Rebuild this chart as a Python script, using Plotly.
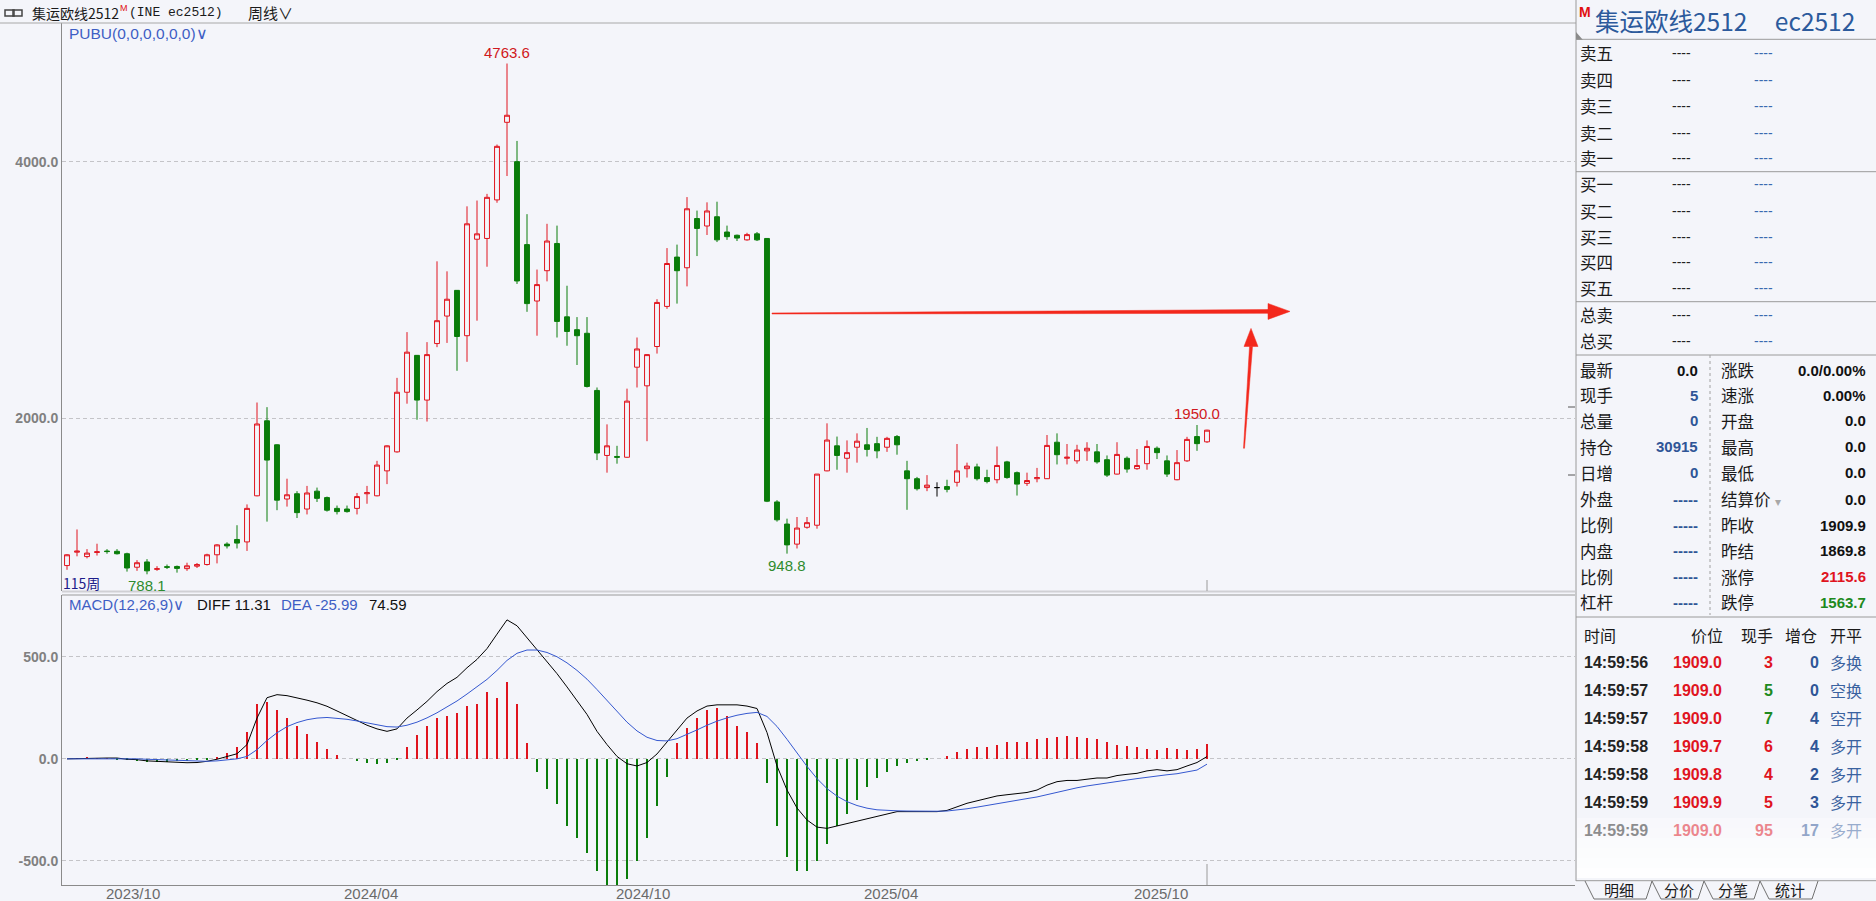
import plotly.graph_objects as go

# ---------------- data ----------------
opens = [856, 960, 926, 958, 969, 967, 948, 843, 884, 827,
         847, 849, 832, 851, 864, 940, 1023, 1059, 1040, 1399,
         1983, 1796, 1374, 1415, 1296, 1435, 1385, 1301, 1296, 1301,
         1415, 1399, 1593, 1741, 2205, 2492, 2144, 2584, 2798, 2998,
         2645, 3396, 3402, 3702, 4306, 4000, 3354, 2915, 3151, 3363,
         2792, 2692, 2664, 2219, 1713, 1705, 1699, 2400, 2255, 2561,
         2873, 3257, 3174, 3557, 3499, 3571, 3452, 3427, 3391, 3438,
         3402, 1351, 1179, 1023, 1154, 1170, 1593, 1788, 1691, 1777,
         1796, 1805, 1777, 1860, 1593, 1532, 1463, 1463, 1471, 1504,
         1610, 1624, 1541, 1524, 1663, 1579, 1496, 1532, 1532, 1816,
         1691, 1671, 1749, 1741, 1680, 1568, 1691, 1610, 1649, 1769,
         1671, 1524, 1671, 1860, 1819]
highs = [945, 1137, 984, 1026, 984, 984, 956, 898, 906, 851,
         864, 856, 878, 876, 948, 1023, 1037, 1170, 1332, 2125,
         2089, 1800, 1532, 1435, 1476, 1463, 1393, 1323, 1323, 1421,
         1476, 1671, 1792, 2317, 2673, 2495, 2595, 3224, 3146, 3000,
         3652, 3697, 3749, 4133, 4763.6, 4161, 3591, 3160, 3516, 3502,
         3034, 2790, 2790, 2242, 1955, 1788, 2233, 2631, 2500, 2929,
         3327, 3354, 3724, 3619, 3683, 3688, 3502, 3432, 3446, 3452,
         3405, 1365, 1221, 1234, 1234, 1568, 1963, 1860, 1830, 1885,
         1927, 1858, 1858, 1872, 1671, 1546, 1560, 1504, 1524, 1802,
         1657, 1649, 1602, 1783, 1671, 1588, 1579, 1616, 1872, 1885,
         1802, 1796, 1816, 1802, 1713, 1816, 1705, 1763, 1830, 1783,
         1713, 1755, 1858, 1950, 1913]
lows = [823, 928, 912, 934, 948, 942, 809, 815, 788.1, 815,
        829, 801, 815, 837, 856, 873, 989, 989, 970, 1395,
        1198, 1287, 1315, 1226, 1254, 1351, 1276, 1254, 1268, 1254,
        1337, 1395, 1490, 1735, 2116, 1991, 1977, 2556, 2589, 2372,
        2442, 2762, 3182, 3680, 3888, 3048, 2831, 2645, 3068, 2631,
        2567, 2417, 2242, 1677, 1579, 1649, 1695, 2242, 1824, 2506,
        2854, 2895, 3029, 3265, 3429, 3374, 3391, 3382, 3385, 3382,
        1350, 1198, 948.8, 989, 1143, 1143, 1590, 1602, 1579, 1657,
        1705, 1691, 1741, 1719, 1290, 1440, 1435, 1393, 1426, 1471,
        1541, 1518, 1496, 1496, 1532, 1401, 1476, 1504, 1530, 1643,
        1643, 1649, 1671, 1649, 1546, 1565, 1579, 1602, 1602, 1685,
        1546, 1520, 1663, 1749, 1811]
closes = [940, 968, 953, 963, 965, 948, 837, 878, 815, 831,
          843, 834, 854, 864, 940, 1017, 1009, 1031, 1301, 1958,
          1677, 1365, 1407, 1268, 1421, 1379, 1287, 1276, 1276, 1393,
          1423, 1638, 1788, 2205, 2517, 2144, 2498, 2762, 2929, 2639,
          3516, 3438, 3722, 4119, 4361, 3071, 2895, 3043, 3382, 2756,
          2678, 2645, 2250, 1732, 1788, 1699, 2136, 2542, 2498, 2904,
          3207, 3151, 3633, 3480, 3616, 3391, 3416, 3405, 3432, 3391,
          1357, 1212, 1017, 1148, 1190, 1568, 1833, 1713, 1735, 1824,
          1760, 1749, 1846, 1796, 1532, 1454, 1482, 1463, 1449, 1593,
          1630, 1532, 1510, 1635, 1541, 1490, 1518, 1541, 1791, 1719,
          1699, 1755, 1769, 1663, 1560, 1721, 1607, 1635, 1783, 1735,
          1568, 1657, 1838, 1805, 1909.9]

diff_vals = [0, 0, 2, 3, 4, 4, -2, -4, -10, -13,
             -16, -18, -19, -18, -12, -2, 10, 25, 70, 200,
             300, 315, 310, 300, 288, 275, 258, 235, 212, 188,
             165, 147, 135, 147, 200, 240, 282, 330, 370, 400,
             447, 488, 541, 612, 682, 653, 594, 535, 476, 418,
             353, 288, 218, 135, 70, 12, -24, -35, -18, 24,
             82, 141, 200, 235, 259, 265, 265, 265, 259, 247,
             129, -35, -153, -241, -300, -335, -341, -329, -318, -306,
             -294, -282, -270, -259, -259, -259, -259, -259, -253, -235,
             -218, -206, -194, -182, -176, -170, -165, -153, -129, -112,
             -106, -106, -100, -94, -94, -82, -76, -71, -59, -53,
             -59, -53, -35, -18, 11.31]
dea_vals = [0, 0, 0, 1, 1, 2, 1, 0, -2, -4,
            -7, -9, -11, -12, -12, -10, -6, 0, 12, 45,
            90, 128, 158, 178, 192, 200, 203, 200, 194, 186,
            176, 166, 158, 156, 165, 180, 201, 226, 255, 284,
            318, 352, 390, 434, 483, 518, 534, 534, 522, 501,
            471, 434, 391, 340, 286, 231, 180, 137, 106, 90,
            88, 99, 119, 142, 165, 185, 201, 214, 223, 228,
            208, 159, 96, 29, -37, -97, -146, -183, -210, -229,
            -242, -250, -254, -255, -256, -257, -257, -257, -256, -252,
            -245, -237, -228, -219, -210, -202, -195, -187, -175, -163,
            -151, -142, -133, -125, -119, -111, -104, -97, -90, -82,
            -78, -73, -65, -55, -25.99]
macd_hist = [0, 3, 5, 4, 3, -3, -8, -12, -15, -15,
             -14, -12, -10, -8, -3, 8, 30, 60, 130, 270,
             280, 240, 200, 160, 120, 85, 50, 20, 0, -12,
             -20, -25, -20, -8, 60, 115, 160, 200, 210, 225,
             260, 270, 330, 300, 375, 270, 80, -65, -150, -220,
             -330, -390, -460, -550, -620, -650, -590, -500, -390, -230,
             -90, 80, 150, 200, 240, 250, 210, 160, 130, 80,
             -120, -330, -480, -550, -550, -500, -420, -330, -270, -200,
             -140, -95, -65, -35, -18, -10, -5, 0, 12, 35,
             48, 58, 60, 70, 82, 82, 82, 95, 100, 105,
             110, 105, 100, 95, 82, 70, 65, 60, 48, 42,
             55, 48, 42, 48, 74.59]

tick_positions = [7.6, 31.4, 58.6, 83.4, 110.4]
tick_labels = ["2023/10", "2024/04", "2024/10", "2025/04", "2025/10"]

ask_labels = ["卖五", "卖四", "卖三", "卖二", "卖一"]
bid_labels = ["买一", "买二", "买三", "买四", "买五"]
tot_labels = ["总卖", "总买"]
quote_left = [("最新", "0.0", "#111111"), ("现手", "5", "#2F5597"), ("总量", "0", "#2F5597"),
              ("持仓", "30915", "#2F5597"), ("日增", "0", "#2F5597"), ("外盘", "-----", "#2F5597"),
              ("比例", "-----", "#2F5597"), ("内盘", "-----", "#2F5597"), ("比例", "-----", "#2F5597"),
              ("杠杆", "-----", "#2F5597")]
quote_right = [("涨跌", "0.0/0.00%", "#111111"), ("速涨", "0.00%", "#111111"), ("开盘", "0.0", "#111111"),
               ("最高", "0.0", "#111111"), ("最低", "0.0", "#111111"), ("结算价", "0.0", "#111111"),
               ("昨收", "1909.9", "#111111"), ("昨结", "1869.8", "#111111"), ("涨停", "2115.6", "#E0141E"),
               ("跌停", "1563.7", "#1E8A1E")]
trade_times = ["14:59:56", "14:59:57", "14:59:57", "14:59:58", "14:59:58", "14:59:59", "14:59:59"]
trade_prices = ["1909.0", "1909.0", "1909.0", "1909.7", "1909.8", "1909.9", "1909.0"]
trade_vols = ["3", "5", "7", "6", "4", "5", "95"]
trade_vol_colors = ["#E0141E", "#1E8A1E", "#1E8A1E", "#E0141E", "#E0141E", "#E0141E", "#E0141E"]
trade_oi = ["0", "0", "4", "4", "2", "3", "17"]
trade_types = ["多换", "空换", "空开", "多开", "多开", "多开", "多开"]
tabs = ["明细", "分价", "分笔", "统计"]

# ---------------- style ----------------
BG = "#F4F5FA"
RED = "#E0141E"
GREEN = "#0A7D0A"
GRID = "#C4C4C8"
AXIS = "#8A8A8A"
CJK = "Noto Sans CJK SC"
SANS = "Liberation Sans"

W, H = 1876, 901
L, R, T, B = 62, 1575, 23, 885


def px(x):
    return (x - L) / (R - L)


def py(y):
    return (B - y) / (B - T)


n = len(closes)
idx = list(range(1, n + 1))

fig = go.Figure()

# candles
norm = [i for i in range(n) if opens[i] != closes[i]]
doji = [i for i in range(n) if opens[i] == closes[i]]
fig.add_trace(go.Candlestick(
    x=[idx[i] for i in norm], open=[opens[i] for i in norm], high=[highs[i] for i in norm],
    low=[lows[i] for i in norm], close=[closes[i] for i in norm],
    increasing=dict(line=dict(color=RED, width=1), fillcolor=BG),
    decreasing=dict(line=dict(color=GREEN, width=1), fillcolor=GREEN),
    whiskerwidth=0, xaxis="x", yaxis="y", hoverinfo="skip"))
if doji:
    fig.add_trace(go.Candlestick(
        x=[idx[i] for i in doji], open=[opens[i] for i in doji], high=[highs[i] for i in doji],
        low=[lows[i] for i in doji], close=[closes[i] for i in doji],
        increasing=dict(line=dict(color="#000000", width=1), fillcolor="#000000"),
        decreasing=dict(line=dict(color="#000000", width=1), fillcolor="#000000"),
        whiskerwidth=0, xaxis="x", yaxis="y", hoverinfo="skip"))

# MACD
fig.add_trace(go.Bar(x=idx, y=macd_hist, width=0.12,
                     marker=dict(color=[RED if v >= 0 else GREEN for v in macd_hist], line=dict(width=0)),
                     xaxis="x2", yaxis="y2", hoverinfo="skip"))
fig.add_trace(go.Scatter(x=idx, y=diff_vals, mode="lines", line=dict(color="#000000", width=1),
                         xaxis="x2", yaxis="y2", hoverinfo="skip"))
fig.add_trace(go.Scatter(x=idx, y=dea_vals, mode="lines", line=dict(color="#3558D0", width=1),
                         xaxis="x2", yaxis="y2", hoverinfo="skip"))

xr = [0.5, 1 + (R - 67) / 10.0]
fig.update_layout(
    width=W, height=H, paper_bgcolor=BG, plot_bgcolor=BG, showlegend=False,
    margin=dict(l=L, r=W - R, t=T, b=H - B, autoexpand=False),
    boxmode="overlay", bargap=0, hovermode=False,
    xaxis=dict(domain=[0, 1], range=xr, anchor="y", showticklabels=False, showgrid=False, automargin=False,
               zeroline=False, showline=False, rangeslider=dict(visible=False), fixedrange=True),
    xaxis2=dict(domain=[0, 1], range=xr, anchor="y2", matches="x", showgrid=False, zeroline=False,
                showline=True, linecolor=AXIS, linewidth=1, ticks="", automargin=False,
                showticklabels=False),
    yaxis=dict(domain=[py(591), 1], range=[658, 5079], showgrid=True, gridcolor=GRID, griddash="4px,3px",
               gridwidth=1, zeroline=False, showline=True, linecolor=AXIS, ticks="", automargin=False,
               tickvals=[2000, 4000], ticktext=["2000.0", "4000.0"],
               tickfont=dict(family=SANS, size=14, color="#808080", weight="bold")),
    yaxis2=dict(domain=[0, py(595)], range=[-619, 804], showgrid=True, gridcolor=GRID, automargin=False,
                griddash="4px,3px", gridwidth=1, zeroline=False, showline=True, linecolor=AXIS,
                ticks="", tickvals=[-500, 0, 500], ticktext=["-500.0", "0.0", "500.0"],
                tickfont=dict(family=SANS, size=14, color="#808080", weight="bold")),
)

shapes = []
ann = []


def pline(x0, y0, x1, y1, color="#A0A0A0", width=1, dash=None):
    d = dict(type="line", xref="paper", yref="paper", x0=px(x0), y0=py(y0), x1=px(x1), y1=py(y1),
             line=dict(color=color, width=width))
    if dash:
        d["line"]["dash"] = dash
    shapes.append(d)


def text(x, y, s, size=14, color="#111111", family=CJK, xanchor="left", weight="normal", opacity=1.0):
    ann.append(dict(x=px(x), y=py(y), xref="paper", yref="paper", text=s, showarrow=False,
                    xanchor=xanchor, yanchor="middle", borderpad=0, opacity=opacity,
                    font=dict(size=size, color=color, family=family, weight=weight)))


# x-axis date labels (placed on the shared candle axis)
for pos, lab in zip(tick_positions, tick_labels):
    ann.append(dict(x=pos, y=py(893), xref="x2", yref="paper", text=lab, showarrow=False,
                    xanchor="center", yanchor="middle", borderpad=0,
                    font=dict(size=15, color="#6A6A6A", family=SANS)))

# frame lines
pline(0, 23, R + 1, 23, "#A8A8A8")
pline(L, 591.5, R, 591.5, "#D0D0D4", 2)
pline(L, 595, R, 595, "#9A9A9A", 1)
pline(R + 1, 0, R + 1, 881, "#9A9A9A")
# last-bar markers
shapes.append(dict(type="line", xref="x", yref="paper", x0=idx[-1], x1=idx[-1], y0=py(591), y1=py(580),
                   line=dict(color="#9A9A9A", width=1)))
shapes.append(dict(type="line", xref="x", yref="paper", x0=idx[-1], x1=idx[-1], y0=py(885), y1=py(864),
                   line=dict(color="#9A9A9A", width=1)))
# small marks at right edge
pline(R - 7, 407, R, 407, "#555555")
pline(R - 7, 475, R, 475, "#555555")
# small collapse triangle at the top-left of the side panel
shapes.append(dict(type="path", xref="paper", yref="paper",
                   path=f"M {px(R + 1)},{py(32)} L {px(R + 8)},{py(40)} L {px(R + 1)},{py(40)} Z",
                   fillcolor="#8A8A8A", line=dict(width=0)))

# link icon
for x0 in (5, 13):
    shapes.append(dict(type="rect", xref="paper", yref="paper", x0=px(x0), x1=px(x0 + 9), y0=py(16), y1=py(10),
                       line=dict(color="#444444", width=1.5)))

# header texts
text(31, 12.5, "集运欧线2512", 14, "#1a1a1a")
text(119, 8, "M", 9, "#E01010", SANS)
text(128, 13, "(INE ec2512)", 13, "#1a1a1a", "Liberation Mono")
text(247, 12.5, "周线∨", 15, "#1a1a1a")
text(68, 33.5, "PUBU(0,0,0,0,0,0)∨", 15.5, "#3E5EC4", SANS)
text(62, 583, "115周", 14, "#1C1C8A", CJK)
text(68, 604, "MACD(12,26,9)∨", 15, "#3E5EC4", SANS)
text(196, 604, "DIFF 11.31", 15, "#111111", SANS)
text(280, 604, "DEA -25.99", 15, "#3E5EC4", SANS)
text(368, 604, "74.59", 15, "#111111", SANS)

# extreme labels
imax = highs.index(max(highs))
ann.append(dict(x=idx[imax], y=highs[imax], xref="x", yref="y", text=f"{highs[imax]:.1f}", showarrow=False,
                yanchor="bottom", yshift=1, font=dict(size=15, color="#D01820", family=SANS)))
imin1 = lows.index(min(lows))
ann.append(dict(x=idx[imin1], y=lows[imin1], xref="x", yref="y", text=f"{lows[imin1]:.1f}", showarrow=False,
                yanchor="top", yshift=-1, font=dict(size=15, color="#2E8B2E", family=SANS)))
imin2 = lows.index(min(lows[60:]))
ann.append(dict(x=idx[imin2], y=lows[imin2], xref="x", yref="y", text=f"{lows[imin2]:.1f}", showarrow=False,
                yanchor="top", yshift=-1, font=dict(size=15, color="#2E8B2E", family=SANS)))
imax2 = highs.index(max(highs[100:]))
ann.append(dict(x=idx[imax2], y=highs[imax2], xref="x", yref="y", text=f"{highs[imax2]:.1f}", showarrow=False,
                yanchor="bottom", yshift=1, font=dict(size=15, color="#D01820", family=SANS)))


# red hand-drawn arrows (in data coordinates of the price panel)
def tapered(x0, y0, x1, y1, w0, w1, head_len, head_w, vertical=False):
    ARW = "#F3281C"
    if not vertical:
        hx = x1 - head_len
        path = (f"M {x0},{y0 - w0} L {hx},{y1 - w1} L {hx},{y1 + w1} L {x0},{y0 + w0} Z")
        head = f"M {hx},{y1 - head_w} L {x1},{y1} L {hx},{y1 + head_w} Z"
    else:
        hy = y1 - head_len
        path = (f"M {x0 - w0},{y0} L {x1 - w1},{hy} L {x1 + w1},{hy} L {x0 + w0},{y0} Z")
        head = f"M {x1 - head_w},{hy} L {x1},{y1} L {x1 + head_w},{hy} Z"
    for p in (path, head):
        shapes.append(dict(type="path", xref="x", yref="y", path=p, fillcolor=ARW,
                           line=dict(color=ARW, width=0.5)))


tapered(71.5, 2818, 123.3, 2834, 4, 15, 2.2, 62)
tapered(118.7, 1769, 119.4, 2702, 0.05, 0.15, 141, 0.7, vertical=True)

# ---------------- right panel ----------------
text(1578, 12, "M", 14, "#E01010", SANS, weight="bold")
text(1594, 20.5, "集运欧线2512&nbsp;&nbsp;&nbsp;&nbsp;&nbsp;ec2512", 24.5, "#2C5A9C", CJK)
for y in (39.3, 171.7, 301.7, 355, 617, 880.7):
    pline(R + 1, y, W, y, "#9A9A9A")
pline(1710, 355, 1710, 615, "#A0A0A0", 1, "dot")

rows1 = list(zip(ask_labels, [53, 80, 106.5, 132.5, 158.3])) + \
    list(zip(bid_labels, [183.5, 210.5, 236.5, 262.3, 287.5])) + \
    list(zip(tot_labels, [315, 340.7]))
for lab, y in rows1:
    text(1579, y, lab, 16.5, "#1a1a1a")
    text(1681, y, "----", 14, "#222222", SANS, "center")
    text(1763, y, "----", 14, "#3A6AB0", SANS, "center")

ys2 = [370, 395.3, 420.7, 446.7, 473, 499, 525, 550.7, 576.7, 602]
for (lab, val, col), y in zip(quote_left, ys2):
    text(1579, y, lab, 16.5, "#1a1a1a")
    text(1699, y, val, 15, col, SANS, "right", "bold")
for (lab, val, col), y in zip(quote_right, ys2):
    text(1720, y, lab, 16.5, "#1a1a1a")
    text(1867, y, val, 15, col, SANS, "right", "bold")
text(1774, 502, "▾", 12, "#A8A8A8", SANS)

text(1583, 635, "时间", 16, "#1a1a1a")
text(1724, 635, "价位", 16, "#1a1a1a", CJK, "right")
text(1774, 635, "现手", 16, "#1a1a1a", CJK, "right")
text(1818, 635, "增仓", 16, "#1a1a1a", CJK, "right")
text(1863, 635, "开平", 16, "#1a1a1a", CJK, "right")
ys3 = [662.3, 690, 718.3, 746, 774, 802.3, 830]
for k, y in enumerate(ys3):
    op = 0.5 if k == len(ys3) - 1 else 1.0
    text(1583, y, trade_times[k], 16, "#222222", SANS, "left", "bold", op)
    text(1723, y, trade_prices[k], 16, RED, SANS, "right", "bold", op)
    text(1774, y, trade_vols[k], 16, trade_vol_colors[k], SANS, "right", "bold", op)
    text(1820, y, trade_oi[k], 16, "#2F5597", SANS, "right", "bold", op)
    text(1863, y, trade_types[k], 16, "#3A62A0", CJK, "right", "normal", op)
# fade overlay below the trade list
for k in range(6):
    shapes.append(dict(type="rect", xref="paper", yref="paper", x0=px(R + 2), x1=px(W), y0=py(818 + k * 10),
                       y1=py(828 + k * 10), fillcolor="#FFFFFF", opacity=0.35 + 0.1 * k, line=dict(width=0),
                       layer="above"))

# tabs
tab_x = [(1585, 1652), (1652, 1704), (1704, 1760), (1760, 1818)]
for (a, b), lab in zip(tab_x, tabs):
    shapes.append(dict(type="path", xref="paper", yref="paper",
                       path=f"M {px(a)},{py(881)} L {px(a + 9)},{py(899)} L {px(b - 6)},{py(899)} L {px(b)},{py(881)}",
                       line=dict(color="#707070", width=1)))
    text((a + b) / 2 + 1, 889.5, lab, 15, "#1a1a1a", CJK, "center")

fig.update_layout(shapes=shapes, annotations=ann)
fig.write_html("out.html", config={"displayModeBar": False},
               post_script="document.body.style.margin='0px';document.body.style.overflow='hidden';")
